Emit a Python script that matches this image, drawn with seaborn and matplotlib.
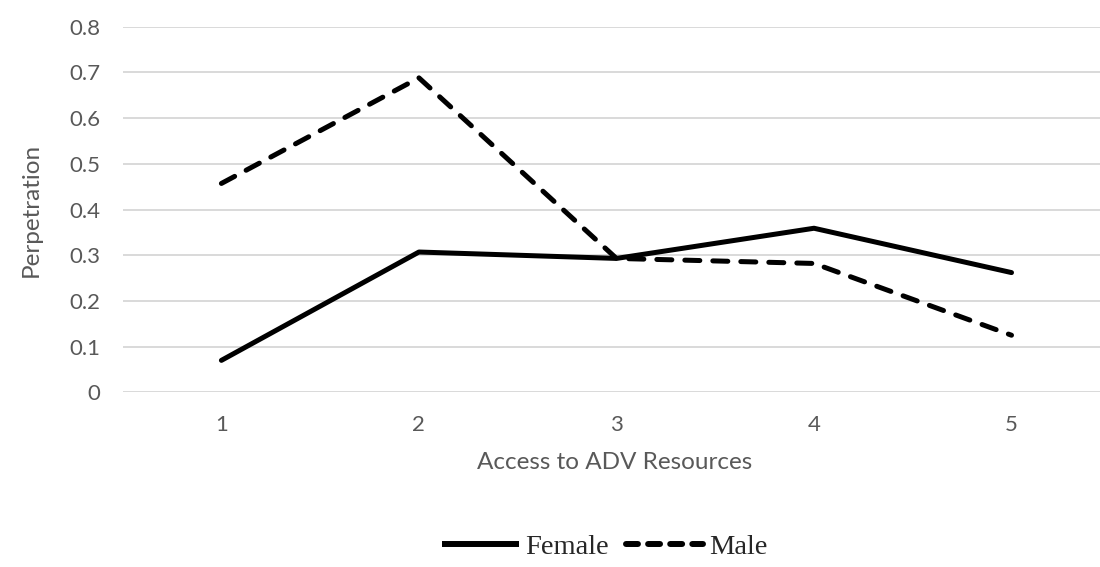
import matplotlib
matplotlib.use("Agg")
import matplotlib.pyplot as plt
import seaborn as sns
import pandas as pd

# values
access = [1, 2, 3, 4, 5]
female = [0.07, 0.307, 0.293, 0.359, 0.262]
male = [0.457, 0.688, 0.293, 0.282, 0.125]
y_ticks = [0, 0.1, 0.2, 0.3, 0.4, 0.5, 0.6, 0.7, 0.8]
y_tick_labels = ["0", "0.1", "0.2", "0.3", "0.4", "0.5", "0.6", "0.7", "0.8"]

df = pd.DataFrame({
    "Access": access * 2,
    "Perpetration": female + male,
    "Sex": ["Female"] * len(access) + ["Male"] * len(access),
})

sns.set_style("white")
plt.rcParams["font.family"] = ["Lato", "DejaVu Sans"]

fig = plt.figure(figsize=(11, 5.67), dpi=100)
ax = fig.add_axes([0.1115, 0.308, 0.8885, 0.645])

sns.lineplot(data=df, x="Access", y="Perpetration", style="Sex",
             dashes={"Female": "", "Male": (3.0, 2.6)}, color="black",
             linewidth=3.6, ax=ax, legend=False)
for line in ax.get_lines():
    line.set_dash_capstyle("round")
    line.set_solid_capstyle("round")

ax.set_xlim(0.5, 5.448)
ax.set_ylim(0, 0.8)
ax.set_xticks(access)
ax.set_xticklabels([str(a) for a in access])
ax.set_yticks(y_ticks)
ax.set_yticklabels(y_tick_labels)
ax.yaxis.grid(True, color="#d9d9d9", linewidth=1.4)
ax.set_axisbelow(True)
for s in ax.spines.values():
    s.set_visible(False)

ax.tick_params(axis="both", length=0, labelsize=16, colors="#595959")
ax.tick_params(axis="y", pad=16)
ax.tick_params(axis="x", pad=16)

ax.set_xlabel("Access to ADV Resources", fontsize=17.5, color="#595959")
ax.xaxis.set_label_coords((615 - 122.7) / 977.3, -0.163)
ax.set_ylabel("Perpetration", fontsize=17.5, color="#595959")
ax.yaxis.set_label_coords(-0.083, 0.5)

handles = [
    plt.Line2D([], [], color="black", linewidth=4.3, solid_capstyle="butt"),
    plt.Line2D([], [], color="black", linewidth=4.3, dashes=(2.0, 1.7), dash_capstyle="round"),
]
fig.legend(handles, ["Female", "Male"], loc="center", bbox_to_anchor=(0.55, 0.036),
           ncol=2, frameon=False, handlelength=2.7, handletextpad=0.23,
           columnspacing=0.6, prop={"family": "Liberation Serif", "size": 20.5})

fig.savefig("out.png", dpi=100)
